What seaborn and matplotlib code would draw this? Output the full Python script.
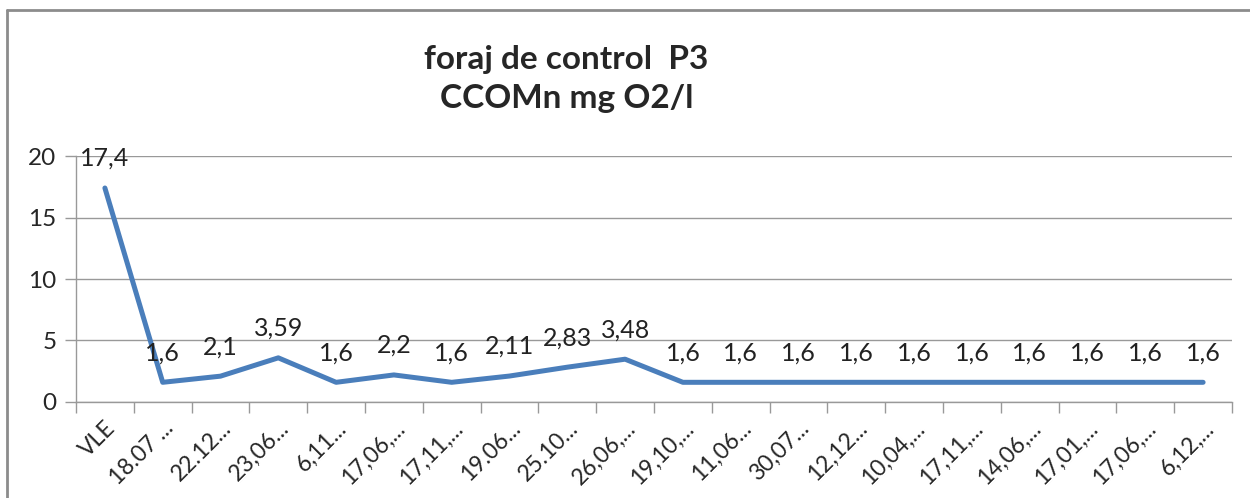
import numpy as np
import pandas as pd
import seaborn as sns
import matplotlib.pyplot as plt
from matplotlib.lines import Line2D

# data
dates = ['VLE', '18.07 ...', '22.12...', '23,06...', '6,11...', '17,06,...',
         '17,11,...', '19.06...', '25.10...', '26,06,...', '19,10,...',
         '11,06...', '30,07...', '12,12...', '10,04,...', '17,11,...',
         '14,06,...', '17,01,...', '17,06,...', '6,12,...']
ccomn = [17.4, 1.6, 2.1, 3.59, 1.6, 2.2, 1.6, 2.11, 2.83, 3.48,
         1.6, 1.6, 1.6, 1.6, 1.6, 1.6, 1.6, 1.6, 1.6, 1.6]
y_ticks = [0, 5, 10, 15, 20]

sns.set_style('white')
plt.rcParams['font.family'] = ['Lato', 'DejaVu Sans']

df = pd.DataFrame({'pos': np.arange(len(dates)), 'val': ccomn})

fig = plt.figure(figsize=(12.5, 4.98), dpi=100)
ax = fig.add_axes([0.0608, 0.1928, 0.9248, 0.4939])

sns.lineplot(data=df, x='pos', y='val', ax=ax, color='#4a7ebb', linewidth=3.6,
             solid_capstyle='round', solid_joinstyle='round')

# data labels
for i, v in enumerate(ccomn):
    lbl = f"{v:g}".replace('.', ',')
    ax.annotate(lbl, (i, v), xytext=(0, 13), textcoords='offset points',
                ha='center', va='bottom', fontsize=18, color='#222222')

ax.set_xlim(-0.5, len(dates) - 0.5)
ax.set_ylim(0, 20)
ax.set_yticks(y_ticks)
ax.set_yticklabels([str(t) for t in y_ticks], fontsize=17.5)
ax.set_xticks(np.arange(len(dates)))
ax.set_xticklabels(dates, rotation=45, ha='right', rotation_mode='anchor', fontsize=16.5)
ax.set_xticks(np.arange(len(dates) + 1) - 0.5, minor=True)
ax.tick_params(axis='x', which='major', length=0, pad=11)
ax.tick_params(axis='x', which='minor', length=8, color='#999999', width=1, direction='out', bottom=True)
ax.tick_params(axis='y', length=8, color='#999999', width=1, direction='out', left=True, pad=6)
ax.set_xlabel('')
ax.set_ylabel('')

ax.grid(True, axis='y', color='#999999', linewidth=1)
for s in ['top', 'right']:
    ax.spines[s].set_visible(False)
for s in ['left', 'bottom']:
    ax.spines[s].set_color('#999999')
    ax.spines[s].set_linewidth(1)

# title
fig.text(0.453, 0.88, 'foraj de control  P3', ha='center', va='center',
         fontsize=24, fontweight='bold')
fig.text(0.453, 0.803, 'CCOMn mg O2/l', ha='center', va='center',
         fontsize=24, fontweight='bold')

# chart frame
fig.add_artist(Line2D([0.0056, 1], [0.98, 0.98], color='#8c8c8c', linewidth=2))
fig.add_artist(Line2D([0.0056, 0.0056], [0, 0.98], color='#8c8c8c', linewidth=2))

plt.savefig('out.png', dpi=100)
plt.close(fig)
